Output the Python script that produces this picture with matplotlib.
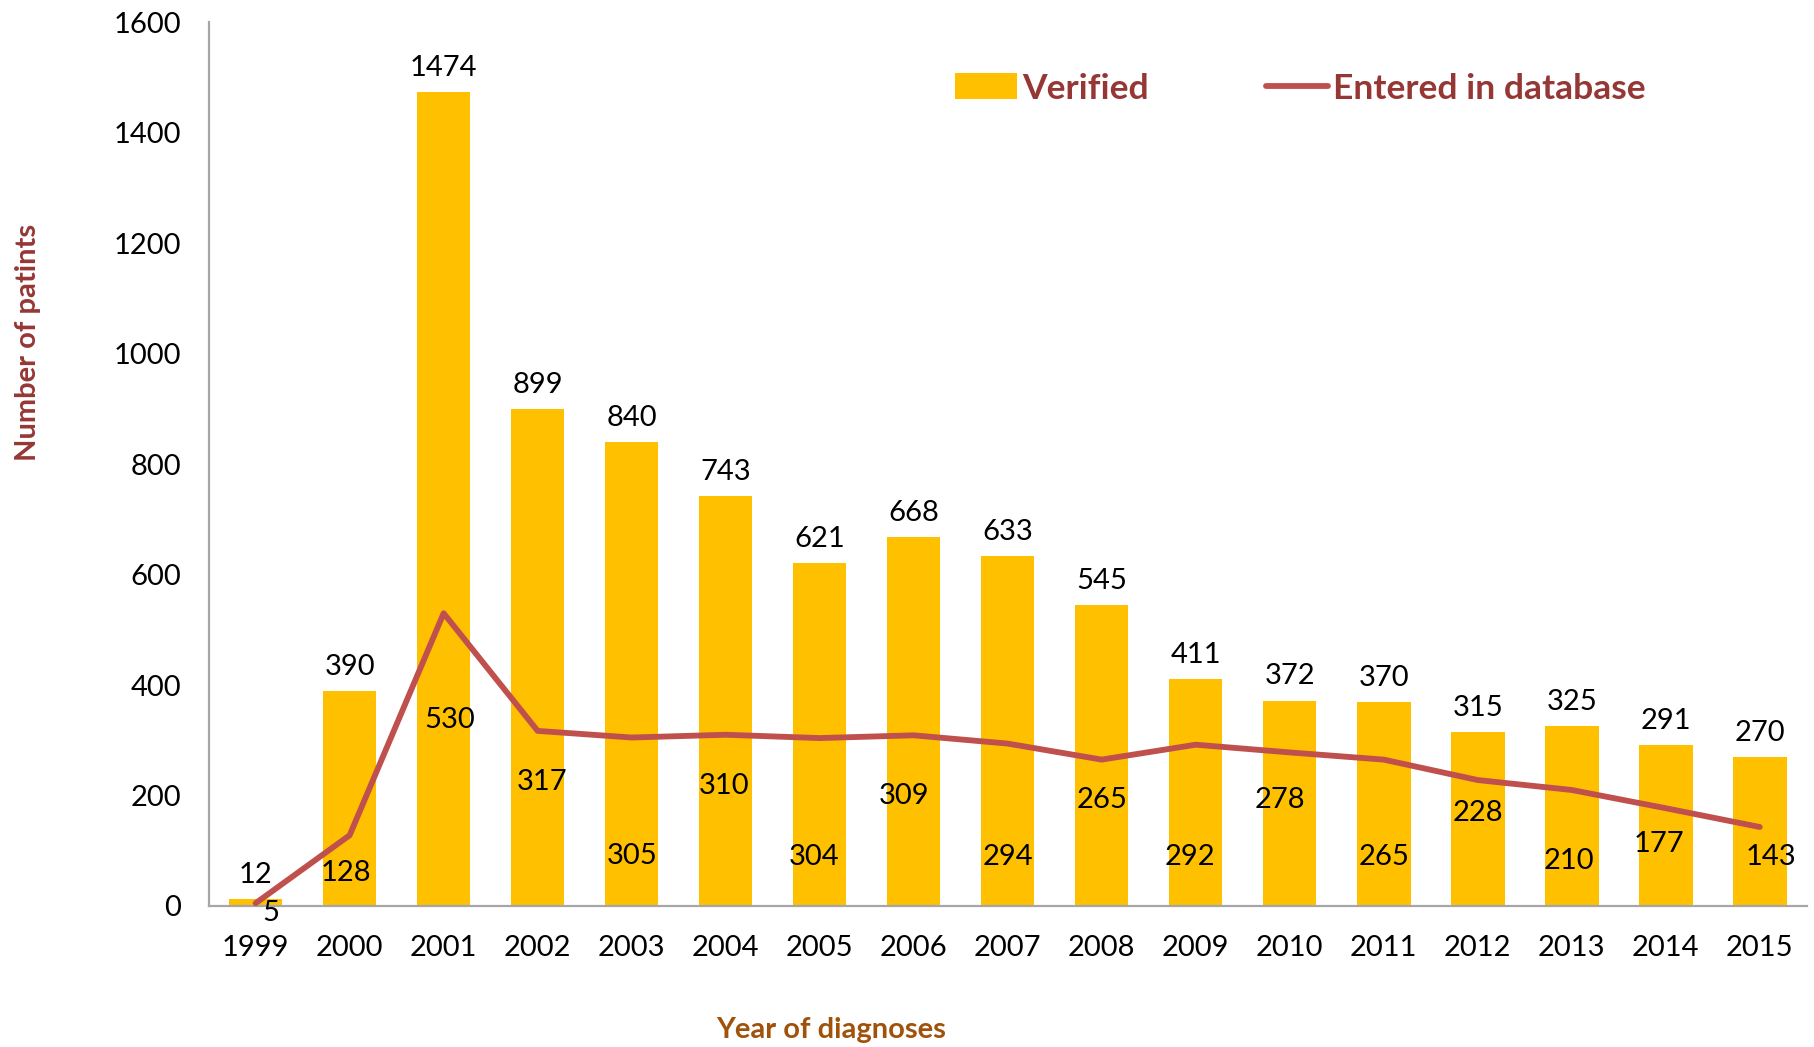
import numpy as np
import matplotlib.pyplot as plt
from matplotlib.lines import Line2D
from matplotlib.patches import Patch

plt.rcParams['font.family'] = ['Lato', 'DejaVu Sans']

years = ['1999', '2000', '2001', '2002', '2003', '2004', '2005', '2006', '2007',
         '2008', '2009', '2010', '2011', '2012', '2013', '2014', '2015']
verified = [12, 390, 1474, 899, 840, 743, 621, 668, 633, 545, 411, 372, 370, 315, 325, 291, 270]
entered = [5, 128, 530, 317, 305, 310, 304, 309, 294, 265, 292, 278, 265, 228, 210, 177, 143]

# where the line labels sit (they were dragged around by hand in the original)
entered_label_y = [-12, 60, 337, 224, 90, 218, 88, 199, 88, 191, 88, 191, 88, 168, 82, 113, 88]
entered_label_dx = [0.16, -0.04, 0.06, 0.05, 0, -0.02, -0.06, -0.1, 0, 0, -0.06, -0.1, 0, 0, -0.03, -0.07, 0.12]

bar_color = '#FFC000'
line_color = '#C0504D'
text_red = '#953735'
fs = 21

fig = plt.figure(figsize=(18.14, 10.47), dpi=100)
ax = fig.add_axes([0.115, 0.1347, 0.881, 0.844])

x = np.arange(len(years))
ax.bar(x, verified, width=0.57, color=bar_color, zorder=2)
ax.plot(x, entered, color=line_color, lw=4.2, zorder=3, solid_capstyle='round')

for i, v in enumerate(verified):
    ax.text(x[i], v + 20, str(v), ha='center', va='bottom', fontsize=fs, color='black', zorder=4)
for i, v in enumerate(entered):
    ax.text(x[i] + entered_label_dx[i], entered_label_y[i], str(v), ha='center', va='center',
            fontsize=fs, color='black', zorder=4)

ax.set_xlim(-0.5, len(years) - 0.5)
ax.set_ylim(0, 1600)
ax.set_yticks(np.arange(0, 1601, 200))
ax.set_xticks(x)
ax.set_xticklabels(years)
ax.tick_params(axis='both', length=0, labelsize=fs, colors='black')
ax.tick_params(axis='x', pad=21)
ax.tick_params(axis='y', pad=20)

for s in ['top', 'right']:
    ax.spines[s].set_visible(False)
for s in ['left', 'bottom']:
    ax.spines[s].set_color('#A6A6A6')
    ax.spines[s].set_linewidth(1.6)

fig.text(0.0155, 0.673, 'Number of patints', rotation=90, ha='center', va='center',
         fontsize=fs, fontweight='bold', color=text_red)
fig.text(0.458, 0.016, 'Year of diagnoses', ha='center', va='center',
         fontsize=fs, fontweight='bold', color='#A0520B')

handles = [Patch(facecolor=bar_color, edgecolor='none'),
           Line2D([0], [0], color=line_color, lw=4.2, solid_capstyle='round')]
leg = ax.legend(handles, ['Verified', 'Entered in database'], ncol=2, frameon=False,
                loc='center', bbox_to_anchor=(0.683, 0.925), fontsize=25.5,
                handlelength=1.75, handleheight=0.75, handletextpad=0.15, columnspacing=3.3)
for t in leg.get_texts():
    t.set_color(text_red)
    t.set_fontweight('bold')

fig.savefig('out.png', dpi=100)
